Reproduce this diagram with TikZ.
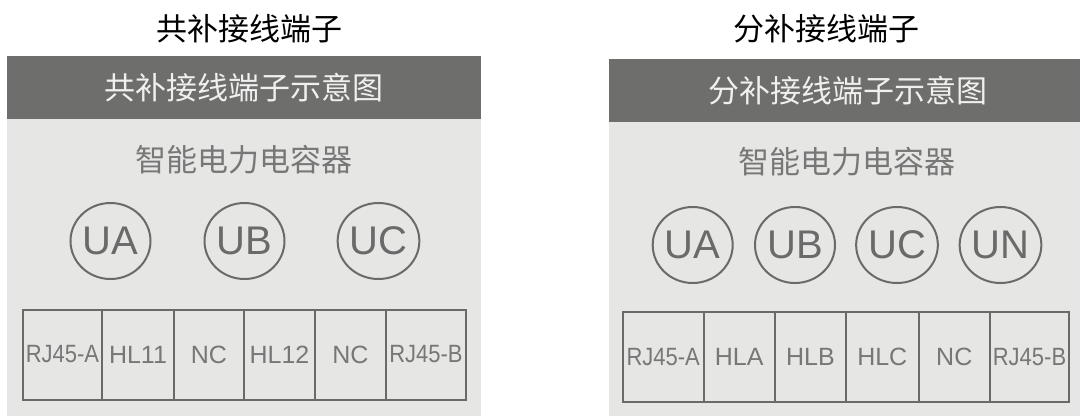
\documentclass[tikz,border=0pt]{standalone}
\usepackage{fontspec}
\setmainfont{Liberation Sans}
\newfontfamily\cjk{Noto Sans CJK SC}
\usetikzlibrary{shapes.geometric}
\definecolor{hdr}{HTML}{6E6E6C}
\definecolor{pnl}{HTML}{E6E7E5}
\definecolor{ln}{HTML}{6A6A6A}
\definecolor{txt}{HTML}{777777}
\tikzset{
  ttl/.style={font=\cjk\fontsize{31}{31}\selectfont, text=black, inner sep=0pt},
  hdrtxt/.style={font=\cjk\fontsize{31}{31}\selectfont, text=white!94!black, inner sep=0pt},
  subtxt/.style={font=\cjk\fontsize{31}{31}\selectfont, text=txt, inner sep=0pt},
  phase/.style={ellipse, draw=ln, line width=2pt, minimum width=80pt, minimum height=76pt, inner sep=0pt, text=ln, font=\fontsize{40}{40}\selectfont},
  cell/.style={rectangle, draw=ln, line width=2pt, minimum height=90pt, inner sep=0pt, text=txt, font=\fontsize{25}{25}\selectfont},
  pnlbox/.style={fill=pnl, draw=none},
  hdrbox/.style={fill=hdr, draw=none}
}
\begin{document}
\begin{tikzpicture}[x=1pt,y=-1pt]
\useasboundingbox[fill=white] (0,0) rectangle (1080,416);
% left panel
\fill[pnlbox] (7,119) rectangle (481,416);
\fill[hdrbox] (7,56) rectangle (481,119);
\node[ttl] (t1) at (249.5,28.5) {共补接线端子};
\node[hdrtxt] (h1) at (244,88) {共补接线端子示意图};
\node[subtxt] (s1) at (244,160) {智能电力电容器};
\node[phase] (la) at (110.5,241) {UA};
\node[phase] (lb) at (244.5,241) {UB};
\node[phase] (lc) at (378.5,241) {UC};
\node[cell, minimum width=79pt] (l1) at (62.5,354.5) {\scalebox{0.88}[1]{RJ45-A}};
\node[cell, minimum width=72pt] (l2) at (138,354.5) {HL11};
\node[cell, minimum width=70pt] (l3) at (209,354.5) {NC};
\node[cell, minimum width=71pt] (l4) at (279.5,354.5) {HL12};
\node[cell, minimum width=71pt] (l5) at (350.5,354.5) {NC};
\node[cell, minimum width=80pt] (l6) at (426,354.5) {\scalebox{0.88}[1]{RJ45-B}};
% right panel
\fill[pnlbox] (609,122) rectangle (1080,416);
\fill[hdrbox] (609,59) rectangle (1080,122);
\node[ttl] (t2) at (826,28.5) {分补接线端子};
\node[hdrtxt] (h2) at (848,91) {分补接线端子示意图};
\node[subtxt] (s2) at (847,161.5) {智能电力电容器};
\node[phase] (ra) at (692.7,245) {UA};
\node[phase] (rb) at (795,245) {UB};
\node[phase] (rc) at (897,245) {UC};
\node[phase] (rn) at (1000.5,245) {UN};
\node[cell, minimum width=80.5pt] (r1) at (663.25,357.25) {\scalebox{0.88}[1]{RJ45-A}};
\node[cell, minimum width=71.5pt] (r2) at (739.25,357.25) {HLA};
\node[cell, minimum width=71pt] (r3) at (810.5,357.25) {HLB};
\node[cell, minimum width=72.5pt] (r4) at (882.25,357.25) {HLC};
\node[cell, minimum width=71.5pt] (r5) at (954.25,357.25) {NC};
\node[cell, minimum width=79pt] (r6) at (1029.5,357.25) {\scalebox{0.88}[1]{RJ45-B}};
\end{tikzpicture}
\end{document}
